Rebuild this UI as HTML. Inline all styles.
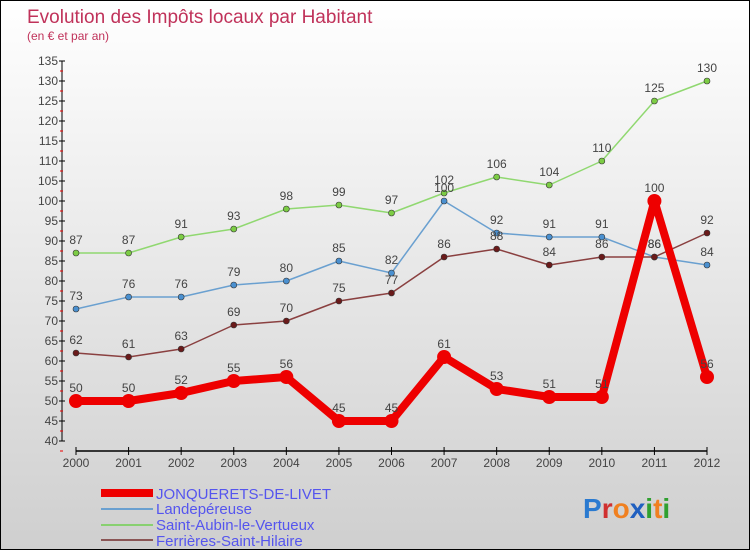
<!DOCTYPE html>
<html><head><meta charset="utf-8"><style>
body{margin:0}
#c{position:relative;width:750px;height:550px;box-sizing:border-box;border:1px solid #000;background:linear-gradient(#ffffff,#cfcfcf);font-family:"Liberation Sans",sans-serif;overflow:hidden}
</style></head><body>
<div id="c">
<svg width="750" height="550" style="position:absolute;left:0;top:0" id="svg">
<text x="26" y="22" font-size="19" fill="#c0325a">Evolution des Impôts locaux par Habitant</text>
<text x="26" y="39" font-size="12" fill="#c0325a">(en € et par an)</text>
<g id="axes"></g><g id="series"></g>
<g>
<rect x="100" y="488" width="52" height="8" fill="#ee0000"/>
<text x="155" y="498" font-size="15" fill="#5555ee">JONQUERETS-DE-LIVET</text>
<line x1="100" x2="152" y1="508" y2="508" stroke="#6aa0d0" stroke-width="2"/>
<text x="155" y="513" font-size="15" fill="#5555ee">Landepéreuse</text>
<line x1="100" x2="152" y1="524" y2="524" stroke="#88d070" stroke-width="2"/>
<text x="155" y="529" font-size="15" fill="#5555ee">Saint-Aubin-le-Vertueux</text>
<line x1="100" x2="152" y1="539" y2="539" stroke="#8a5555" stroke-width="2"/>
<text x="155" y="545" font-size="15" fill="#5555ee">Ferrières-Saint-Hilaire</text>
</g>
<text x="582" y="517" font-size="28" font-weight="bold"><tspan fill="#2a7ad0">P</tspan><tspan fill="#d03030">r</tspan><tspan fill="#f08020">o</tspan><tspan fill="#2060c0">x</tspan><tspan fill="#30a030">i</tspan><tspan fill="#f08020">t</tspan><tspan fill="#30a030">i</tspan></text>
</svg>
</div>
<script>
const years=[2000,2001,2002,2003,2004,2005,2006,2007,2008,2009,2010,2011,2012];
const jonquerets=[50,50,52,55,56,45,45,61,53,51,51,100,56];
const landepereuse=[73,76,76,79,80,85,82,100,92,91,91,86,84];
const saintAubin=[87,87,91,93,98,99,97,102,106,104,110,125,130];
const ferrieres=[62,61,63,69,70,75,77,86,88,84,86,86,92];
const yTicks=[40,45,50,55,60,65,70,75,80,85,90,95,100,105,110,115,120,125,130,135];
const NS="http://www.w3.org/2000/svg";
const xS=i=>75+i*(706-75)/(years.length-1);
const yS=v=>440-(v-40)*4;
function mk(t,a,p){const e=document.createElementNS(NS,t);for(const k in a)e.setAttribute(k,a[k]);p.appendChild(e);return e;}
const ax=document.getElementById('axes');
let l=mk('line',{x1:61,x2:61,y1:yS(135),y2:yS(40),stroke:'#000'},ax);


l=mk('line',{x1:75,x2:706,y1:450,y2:450,stroke:'#000',"stroke-width":1.5},ax);


yTicks.forEach(v=>{
 mk('line',{x1:58,x2:64,y1:yS(v),y2:yS(v),stroke:'#000'},ax);
 mk('line',{x1:59,x2:62,y1:yS(v)+10,y2:yS(v)+10,stroke:'#e00'},ax);
 const t=mk('text',{x:57,y:yS(v)+4,"font-size":12,fill:'#444',"text-anchor":'end'},ax);t.textContent=v;
 
 
});
years.forEach((y,i)=>{
 mk('line',{x1:xS(i),x2:xS(i),y1:446,y2:454,stroke:'#000'},ax);
 const t=mk('text',{x:xS(i),y:466,"font-size":12,fill:'#444',"text-anchor":'middle'},ax);t.textContent=y;
 
 
});
const sg=document.getElementById('series');
function draw(vals,color,w,r,name,dot){
 const p=mk('polyline',{points:vals.map((v,i)=>xS(i)+','+yS(v)).join(' '),fill:'none',stroke:color,"stroke-width":w,"stroke-linejoin":'round'},sg);
 
 
 vals.forEach((v,i)=>{
  const c=mk('circle',{cx:xS(i),cy:yS(v),r:r,fill:dot,stroke:'#333',"stroke-width":r>5?0:0.6},sg);
  
  
  const t=mk('text',{x:xS(i),y:yS(v)-9,"font-size":12,fill:'#444',"text-anchor":'middle'},sg);t.textContent=v;
  
  
 });
}
draw(saintAubin,'#90d870',1.5,3,'saint-aubin','#7ccc44');
draw(landepereuse,'#6aa0d0',1.5,3,'landepereuse','#4a90d0');
draw(ferrieres,'#8a4040',1.5,3,'ferrieres','#6a1a1a');
draw(jonquerets,'#ee0000',8,7,'jonquerets','#ee0000');
</script>
</body></html>
